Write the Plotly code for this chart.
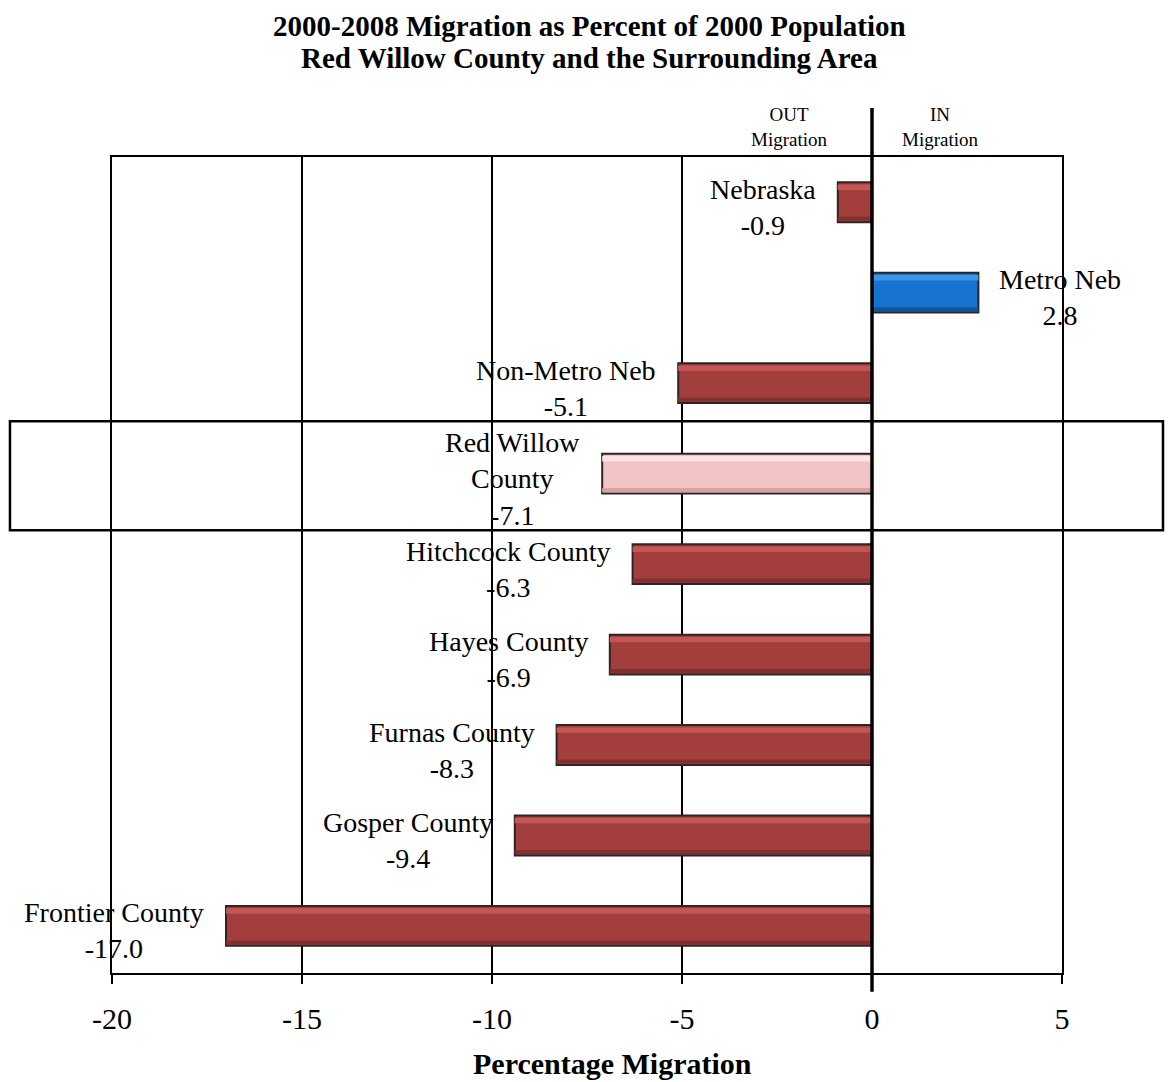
import plotly.graph_objects as go

# ---- data ----
categories = ["Nebraska", "Metro Neb", "Non-Metro Neb", "Red Willow County",
              "Hitchcock County", "Hayes County", "Furnas County", "Gosper County",
              "Frontier County"]
label_names = ["Nebraska", "Metro Neb", "Non-Metro Neb", "Red Willow<br>County",
               "Hitchcock County", "Hayes County", "Furnas County", "Gosper County",
               "Frontier County"]
migration = [-0.9, 2.8, -5.1, -7.1, -6.3, -6.9, -8.3, -9.4, -17.0]
x_ticks = [-20, -15, -10, -5, 0, 5]
title_lines = ["2000-2008 Migration as Percent of 2000 Population",
               "Red Willow County and the Surrounding Area"]

# ---- styles ----
FONT = "Liberation Serif, Times New Roman, serif"
body_colors, hi_colors, lo_colors = [], [], []
for c, v in zip(categories, migration):
    if c == "Red Willow County":
        body_colors.append("#F2C3C4"); hi_colors.append("#FBE3E3"); lo_colors.append("#D6A3A4")
    elif v > 0:
        body_colors.append("#1673D0"); hi_colors.append("#3E96E4"); lo_colors.append("#0F5598")
    else:
        body_colors.append("#A23E3C"); hi_colors.append("#C25755"); lo_colors.append("#80302E")

BAR_W = 0.44

fig = go.Figure()
fig.add_trace(go.Bar(
    x=migration, y=categories, orientation="h", width=BAR_W,
    marker=dict(color=body_colors, line=dict(color="#2E2424", width=2)),
    hoverinfo="x+y", showlegend=False,
))
# bevel highlight (top) and shade (bottom)
fig.add_trace(go.Bar(
    x=migration, y=categories, orientation="h", width=0.06, offset=-0.195,
    marker=dict(color=hi_colors, line=dict(width=0)),
    hoverinfo="skip", showlegend=False,
))
fig.add_trace(go.Bar(
    x=migration, y=categories, orientation="h", width=0.045, offset=0.16,
    marker=dict(color=lo_colors, line=dict(width=0)),
    hoverinfo="skip", showlegend=False,
))

annotations = []
for name, c, v in zip(label_names, categories, migration):
    annotations.append(dict(
        x=v, y=c, xref="x", yref="y",
        text=f"{name}<br>{v:.1f}",
        showarrow=False, align="center",
        xanchor="left" if v > 0 else "right",
        xshift=19 if v > 0 else -20, yshift=-5,
        font=dict(family=FONT, size=28, color="black"),
    ))

# title lines
for txt, yp in zip(title_lines, [1.1605, 1.1212]):
    annotations.append(dict(x=0.503, y=yp, xref="paper", yref="paper",
                            text=f"<b>{txt}</b>", showarrow=False,
                            xanchor="center", yanchor="middle",
                            font=dict(family=FONT, size=29, color="black")))

# OUT / IN headers
annotations.append(dict(x=-2.18, y=1.0365, xref="x", yref="paper", text="OUT<br>Migration",
                        showarrow=False, align="center", xanchor="center", yanchor="middle",
                        font=dict(family=FONT, size=19, color="black")))
annotations.append(dict(x=1.79, y=1.0365, xref="x", yref="paper", text="IN<br>Migration",
                        showarrow=False, align="center", xanchor="center", yanchor="middle",
                        font=dict(family=FONT, size=19, color="black")))
# x axis title
annotations.append(dict(x=0.527, y=-0.1115, xref="paper", yref="paper",
                        text="<b>Percentage Migration</b>", showarrow=False,
                        xanchor="center", yanchor="middle",
                        font=dict(family=FONT, size=30, color="black")))

shapes = [
    # zero line extended above the plot
    dict(type="line", xref="x", yref="paper", x0=0, x1=0, y0=-0.023, y1=1.060,
         line=dict(color="black", width=3.5), layer="above"),
    # highlight box around Red Willow County
    dict(type="rect", xref="paper", yref="y", x0=-0.1074, x1=1.1063, y0=2.42, y1=3.625,
         line=dict(color="black", width=2.5), fillcolor="rgba(0,0,0,0)", layer="above"),
]

fig.update_layout(
    width=1157, height=1074,
    margin=dict(l=104, r=103, t=149, b=109),
    paper_bgcolor="white", plot_bgcolor="white",
    barmode="overlay",
    annotations=annotations,
    shapes=shapes,
    showlegend=False,
)
fig.update_xaxes(
    range=[-20, 5], tickvals=x_ticks, ticktext=[str(t) for t in x_ticks],
    showgrid=True, gridcolor="black", gridwidth=2, zeroline=False,
    showline=True, mirror=True, linecolor="black", linewidth=2,
    ticks="outside", ticklen=9, tickwidth=2, tickcolor="black",
    ticklabelstandoff=9,
    tickfont=dict(family=FONT, size=30, color="black"),
)
fig.update_yaxes(
    type="category", categoryorder="array", categoryarray=categories,
    range=[8.52, -0.5], showticklabels=False, ticks="",
    showgrid=False, zeroline=False,
    showline=True, mirror=True, linecolor="black", linewidth=2,
)

fig.write_html("out.html")
